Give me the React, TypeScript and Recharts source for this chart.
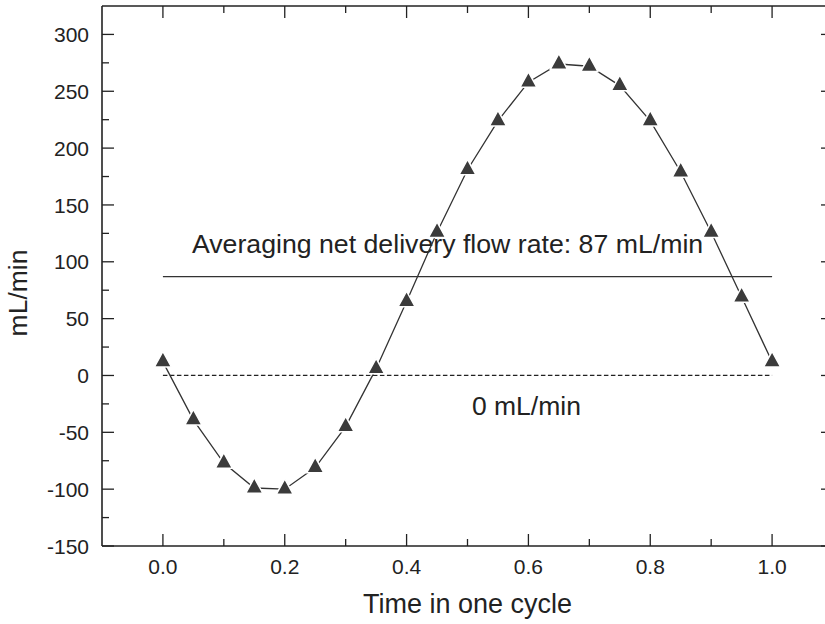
import React from "react"
import { Line, LineChart, ReferenceLine, XAxis, YAxis } from "recharts"

// time points in one cycle and the measured flow rate (mL/min)
const times = [0, 0.05, 0.1, 0.15, 0.2, 0.25, 0.3, 0.35, 0.4, 0.45, 0.5, 0.55, 0.6, 0.65, 0.7, 0.75, 0.8, 0.85, 0.9, 0.95, 1.0]
const flow = [12, -39, -77, -99, -100, -81, -45, 6, 65, 126, 181, 224, 258, 274, 272, 255, 224, 179, 126, 69, 12]

const averageFlow = 87
const averageLabel = "Averaging net delivery flow rate: 87 mL/min"
const zeroLabel = "0 mL/min"

const xTicks = [0, 0.1, 0.2, 0.3, 0.4, 0.5, 0.6, 0.7, 0.8, 0.9, 1.0]
const yTicks = [-150, -125, -100, -75, -50, -25, 0, 25, 50, 75, 100, 125, 150, 175, 200, 225, 250, 275, 300]

const data = times.map((t, i) => ({ t, flow: flow[i] }))

const FONT = '"Liberation Sans", Arial, Helvetica, sans-serif'
const INK = "#222"
const MAJOR = 12
const MINOR = 7

const isMajorX = (v: number) => Math.round(v * 10) % 2 === 0
const isMajorY = (v: number) => v % 50 === 0

function BottomTick({ x, y, payload }: any) {
  const v = payload.value
  const major = isMajorX(v)
  return (
    <g>
      <line x1={x} y1={y} x2={x} y2={y - (major ? MAJOR : MINOR)} stroke={INK} strokeWidth={1.3} />
      {major && (
        <text x={x} y={y + 28} textAnchor="middle" fontSize={21} fontFamily={FONT} fill={INK}>
          {v.toFixed(1)}
        </text>
      )}
    </g>
  )
}

function TopTick({ x, y, payload }: any) {
  const major = isMajorX(payload.value)
  return <line x1={x} y1={y} x2={x} y2={y + (major ? MAJOR : MINOR)} stroke={INK} strokeWidth={1.3} />
}

function LeftTick({ x, y, payload }: any) {
  const v = payload.value
  const major = isMajorY(v)
  return (
    <g>
      <line x1={x} y1={y} x2={x + (major ? MAJOR : MINOR)} y2={y} stroke={INK} strokeWidth={1.3} />
      {major && (
        <text x={x - 13} y={y} dy="0.36em" textAnchor="end" fontSize={21} fontFamily={FONT} fill={INK}>
          {v}
        </text>
      )}
    </g>
  )
}

function RightTick({ x, y, payload }: any) {
  const major = isMajorY(payload.value)
  return <line x1={x} y1={y} x2={x - (major ? MAJOR : MINOR)} y2={y} stroke={INK} strokeWidth={1.3} />
}

function TriangleDot({ cx, cy, index }: any) {
  const w = 17
  const h = 15.5
  const pts = `${cx},${cy - (2 * h) / 3} ${cx + w / 2},${cy + h / 3} ${cx - w / 2},${cy + h / 3}`
  return <polygon key={index} points={pts} fill="#3b3b3b" stroke="#fff" strokeWidth={1.5} />
}

const axisLine = { stroke: INK, strokeWidth: 1.6 }

export default function App() {
  return (
    <div style={{ position: "absolute", left: 0, top: 0, width: 825, height: 624, overflow: "hidden", background: "#fff" }}>
      <LineChart width={840} height={624} data={data} margin={{ top: 6, right: 7, bottom: 0, left: 0 }}>
        <XAxis
          dataKey="t"
          type="number"
          domain={[-0.1, 1.1]}
          ticks={xTicks}
          interval={0}
          allowDataOverflow
          height={78}
          tickSize={0}
          tickMargin={0}
          axisLine={axisLine}
          tickLine={false}
          tick={<BottomTick />}
          label={(p: any) => {
            const vb = p.viewBox || { x: 102, y: 546, width: 731, height: 78 }
            return (
              <text x={vb.x + vb.width / 2} y={vb.y + 67} textAnchor="middle" fontSize={27} fontFamily={FONT} fill={INK}>
                Time in one cycle
              </text>
            )
          }}
        />
        <XAxis
          xAxisId="top"
          dataKey="t"
          orientation="top"
          mirror
          type="number"
          domain={[-0.1, 1.1]}
          ticks={xTicks}
          interval={0}
          allowDataOverflow
          height={30}
          tickSize={0}
          tickMargin={0}
          axisLine={axisLine}
          tickLine={false}
          tick={<TopTick />}
        />
        <YAxis
          type="number"
          domain={[-150, 325]}
          ticks={yTicks}
          interval={0}
          allowDataOverflow
          width={102}
          tickSize={0}
          tickMargin={0}
          axisLine={axisLine}
          tickLine={false}
          tick={<LeftTick />}
          label={(p: any) => {
            const vb = p.viewBox || { x: 0, y: 6, width: 102, height: 540 }
            const cx = vb.x + 18
            const cy = vb.y + vb.height / 2 + 17
            return (
              <text x={cx} y={cy} dy="0.35em" transform={`rotate(-90 ${cx} ${cy})`} textAnchor="middle" fontSize={26.5} fontFamily={FONT} fill={INK}>
                mL/min
              </text>
            )
          }}
        />
        <YAxis
          yAxisId="right"
          orientation="right"
          mirror
          type="number"
          domain={[-150, 325]}
          ticks={yTicks}
          interval={0}
          allowDataOverflow
          width={30}
          tickSize={0}
          tickMargin={0}
          axisLine={axisLine}
          tickLine={false}
          tick={<RightTick />}
        />
        <ReferenceLine
          segment={[{ x: 0, y: 0 }, { x: 1, y: 0 }]}
          stroke={INK}
          strokeWidth={1.2}
          strokeDasharray="4.5 2.5"
          label={(p: any) => {
            const vb = p.viewBox || { x: 163, y: 375 }
            return (
              <text x={vb.x + 309} y={vb.y + 40} fontSize={26.5} fontFamily={FONT} fill={INK}>
                {zeroLabel}
              </text>
            )
          }}
        />
        <ReferenceLine
          segment={[{ x: 0, y: averageFlow }, { x: 1, y: averageFlow }]}
          stroke="#333"
          strokeWidth={1.3}
          label={(p: any) => {
            const vb = p.viewBox || { x: 163, y: 277 }
            return (
              <text x={vb.x + 29} y={vb.y - 24} fontSize={26.7} fontFamily={FONT} fill={INK}>
                {averageLabel}
              </text>
            )
          }}
        />
        {/* invisible copy that keeps the top and right frame axes alive */}
        <Line
          xAxisId="top"
          yAxisId="right"
          type="linear"
          dataKey="flow"
          stroke="none"
          dot={false}
          activeDot={false}
          legendType="none"
          isAnimationActive={false}
        />
        <Line
          type="linear"
          dataKey="flow"
          stroke="#333"
          strokeWidth={1.3}
          dot={<TriangleDot />}
          activeDot={false}
          isAnimationActive={false}
        />
      </LineChart>
    </div>
  )
}
